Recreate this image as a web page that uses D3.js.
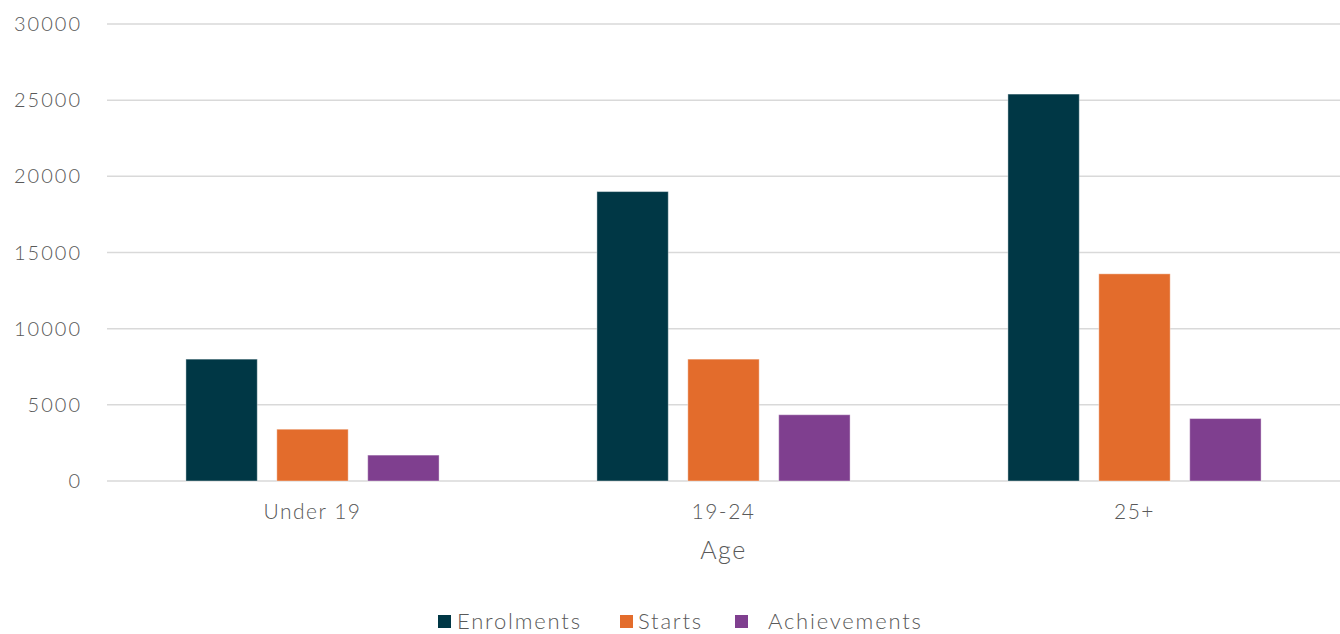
<!DOCTYPE html>
<html>
<head>
<meta charset="utf-8">
<script src="https://cdn.jsdelivr.net/npm/d3@7"></script>
<style>
  body { margin: 0; background: #fff; }
  text { font-family: Lato, "Open Sans", sans-serif; font-weight: 300; fill: #595959; }
</style>
</head>
<body>
<svg id="chart"></svg>
<script>
const categories = ["Under 19", "19-24", "25+"];
const seriesNames = ["Enrolments", "Starts", "Achievements"];
const enrolments = [8000, 19000, 25400];
const starts = [3400, 8000, 13600];
const achievements = [1700, 4350, 4100];
const yTicks = [0, 5000, 10000, 15000, 20000, 25000, 30000];
const colors = ["#003745", "#e36c2c", "#7f3f8f"];

const width = 1340, height = 634;
const margin = { top: 24, right: 0, bottom: 153, left: 107 };

const values = [enrolments, starts, achievements];
const rows = categories.map((c, i) => ({ cat: c, vals: seriesNames.map((s, j) => ({ key: s, value: values[j][i] })) }));

const svg = d3.select("#chart").attr("width", width).attr("height", height);

const x0 = d3.scaleBand().domain(categories)
    .range([margin.left, width - margin.right])
    .paddingInner(0.384).paddingOuter(0.192);
const x1 = d3.scaleBand().domain(seriesNames)
    .range([0, x0.bandwidth()]).paddingInner(0.215);
const y = d3.scaleLinear().domain([0, 30000]).range([height - margin.bottom, margin.top]);

// gridlines
svg.append("g")
    .selectAll("line").data(yTicks).join("line")
    .attr("x1", margin.left).attr("x2", width - margin.right)
    .attr("y1", d => y(d)).attr("y2", d => y(d))
    .attr("stroke", "#d9d9d9").attr("stroke-width", 1.5);

// y labels
svg.append("g")
    .selectAll("text").data(yTicks).join("text")
    .attr("x", 82).attr("y", d => y(d))
    .attr("dy", "0.35em")
    .attr("text-anchor", "end")
    .style("font-size", "20px")
    .style("letter-spacing", "2px")
    .text(d => d);

// bars
svg.append("g")
    .selectAll("g").data(rows).join("g")
    .attr("transform", d => "translate(" + x0(d.cat) + ",0)")
    .selectAll("rect").data(d => d.vals).join("rect")
    .attr("x", d => x1(d.key))
    .attr("y", d => y(d.value))
    .attr("width", x1.bandwidth())
    .attr("height", d => y(0) - y(d.value))
    .attr("fill", (d, i) => colors[i])
    .attr("stroke", "#ffffff").attr("stroke-opacity", 0.4).attr("stroke-width", 1);

// category labels
svg.append("g")
    .selectAll("text").data(categories).join("text")
    .attr("x", d => x0(d) + x0.bandwidth() / 2)
    .attr("y", 519)
    .attr("text-anchor", "middle")
    .style("font-size", "21px")
    .style("letter-spacing", "1.5px")
    .text(d => d);

// axis title
svg.append("text")
    .attr("x", x0("19-24") + x0.bandwidth() / 2)
    .attr("y", 559)
    .attr("text-anchor", "middle")
    .style("font-size", "25px")
    .style("letter-spacing", "1.5px")
    .text("Age");

// legend
const legendX = [438, 620, 735];
const legendText = [457, 638, 768];
const legend = svg.append("g")
    .selectAll("g").data(seriesNames).join("g")
    .attr("transform", (d, i) => "translate(" + legendX[i] + ",615)");
legend.append("rect")
    .attr("width", 13).attr("height", 13).attr("y", 0)
    .attr("fill", (d, i) => colors[i]);
legend.append("text")
    .attr("x", (d, i) => legendText[i] - legendX[i])
    .attr("y", 6).attr("dy", "0.35em")
    .style("font-size", "22px")
    .style("letter-spacing", "1.8px")
    .text(d => d);
</script>
</body>
</html>
